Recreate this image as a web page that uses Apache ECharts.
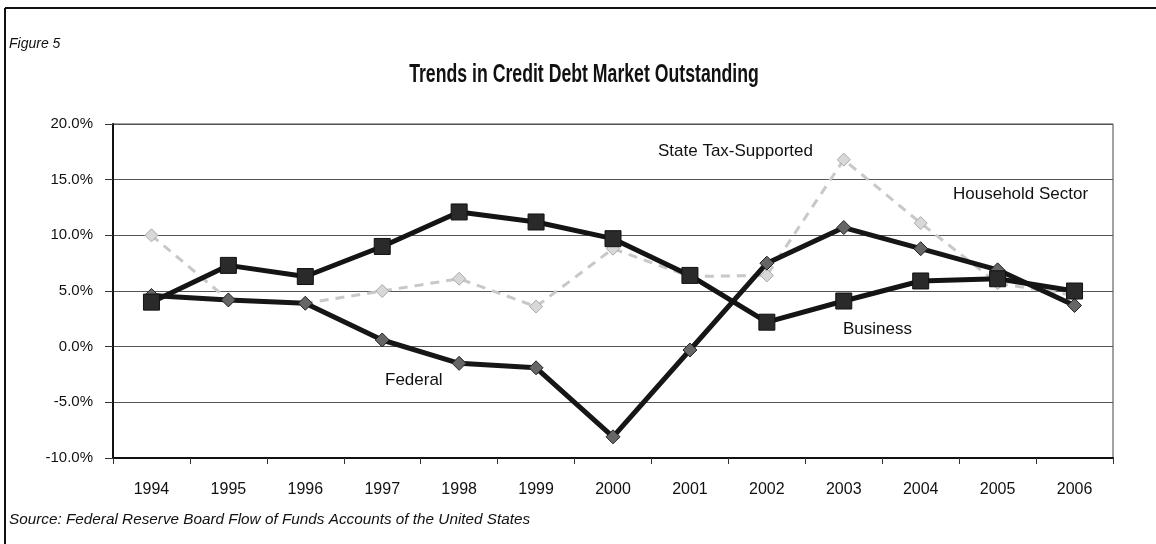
<!DOCTYPE html>
<html><head><meta charset="utf-8">
<script src="https://cdn.jsdelivr.net/npm/echarts@6/dist/echarts.min.js"></script>
<style>html,body{margin:0;padding:0;background:#fff}#c{width:1156px;height:544px}</style>
</head><body><div id="c"></div>
<script>
const years = ['1994','1995','1996','1997','1998','1999','2000','2001','2002','2003','2004','2005','2006'];
const business = [4.0, 7.3, 6.3, 9.0, 12.1, 11.2, 9.7, 6.4, 2.2, 4.1, 5.9, 6.1, 5.0];
const federal = [4.6, 4.2, 3.9, 0.6, -1.5, -1.9, -8.1, -0.3, 7.5, 10.7, 8.8, 6.9, 3.7];
const stateTax = [10.0, 4.2, 3.9, 5.0, 6.1, 3.6, 8.8, 6.3, 6.4, 16.8, 11.1, 5.7, 4.6];
const yTicks = {min: -10, max: 20, interval: 5};

const SANS = '"Liberation Sans",Arial,sans-serif';
const chart = echarts.init(document.getElementById('c'));
chart.setOption({
  backgroundColor: '#fff',
  animation: false,
  grid: {left: 113, right: 43, top: 124, bottom: 86, show: true, borderColor: '#444', borderWidth: 1},
  xAxis: {
    type: 'category', data: years, boundaryGap: true,
    axisLine: {onZero: false, lineStyle: {color: '#111', width: 2}},
    axisTick: {show: true, length: 6, lineStyle: {color: '#333'}},
    axisLabel: {margin: 24, fontSize: 16, color: '#111', fontFamily: SANS},
    splitLine: {show: false}
  },
  yAxis: {
    type: 'value', min: yTicks.min, max: yTicks.max, interval: yTicks.interval,
    axisLine: {show: true, lineStyle: {color: '#111', width: 2}},
    axisTick: {show: true, length: 8, lineStyle: {color: '#333'}},
    axisLabel: {margin: 20, fontSize: 15, color: '#111', fontFamily: SANS,
      formatter: v => v.toFixed(1) + '%'},
    splitLine: {show: true, lineStyle: {color: '#555', width: 1}}
  },
  graphic: [
    {type: 'line', shape: {x1: 5, y1: 8, x2: 1156, y2: 8}, style: {stroke: '#111', lineWidth: 2}},
    {type: 'line', shape: {x1: 5, y1: 8, x2: 5, y2: 544}, style: {stroke: '#111', lineWidth: 2}},
    {type: 'text', x: 584, y: 75, scaleX: 0.68, originX: 0, originY: 0,
     style: {text: 'Trends in Credit Debt Market Outstanding', font: 'bold 26px ' + SANS, fill: '#111',
       textAlign: 'center', textVerticalAlign: 'middle'}},
    {type: 'text', left: 9, top: 37, style: {text: 'Figure 5', font: 'italic 14px ' + SANS, fill: '#111'}},
    {type: 'text', left: 9, top: 512, style: {text: 'Source: Federal Reserve Board Flow of Funds Accounts of the United States', font: 'italic 15.3px ' + SANS, fill: '#111'}},
    {type: 'text', left: 658, top: 143, style: {text: 'State Tax-Supported', font: '17px ' + SANS, fill: '#111'}},
    {type: 'text', left: 953, top: 186, style: {text: 'Household Sector', font: '17px ' + SANS, fill: '#111'}},
    {type: 'text', left: 385, top: 372, style: {text: 'Federal', font: '17px ' + SANS, fill: '#111'}},
    {type: 'text', left: 843, top: 321, style: {text: 'Business', font: '17px ' + SANS, fill: '#111'}}
  ],
  series: [
    {name: 'State Tax-Supported', type: 'line', data: stateTax, z: 2,
     lineStyle: {color: '#c8c8c8', width: 3, type: [9, 7]},
     symbol: 'diamond', symbolSize: 13,
     itemStyle: {color: '#d8d8d8', borderColor: '#aaa', borderWidth: 1}},
    {name: 'Federal', type: 'line', data: federal, z: 3,
     lineStyle: {color: '#161616', width: 5},
     symbol: 'diamond', symbolSize: 14,
     itemStyle: {color: '#666', borderColor: '#222', borderWidth: 1}},
    {name: 'Business', type: 'line', data: business, z: 4,
     lineStyle: {color: '#141414', width: 5},
     symbol: 'rect', symbolSize: 16,
     itemStyle: {color: '#2a2a2a', borderColor: '#111', borderWidth: 1}}
  ]
});
</script></body></html>
